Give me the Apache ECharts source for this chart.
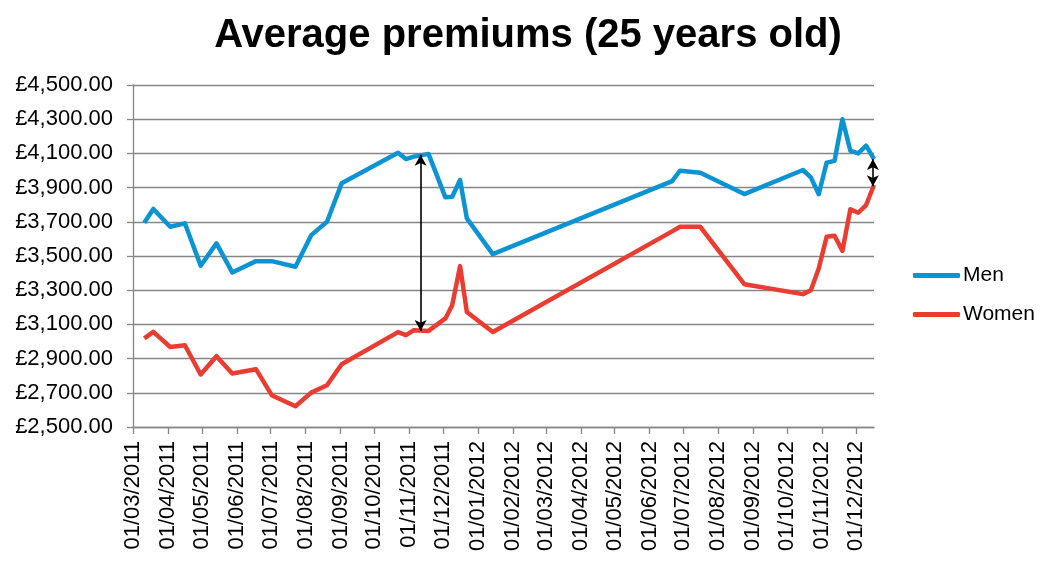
<!DOCTYPE html>
<html>
<head>
<meta charset="utf-8">
<script src="https://cdn.jsdelivr.net/npm/echarts@6/dist/echarts.min.js"></script>
<style>
html,body{margin:0;padding:0;background:#fff;}
#c{width:1056px;height:566px;}
</style>
</head>
<body>
<div id="c"></div>
<script>
var titleText = 'Average premiums (25 years old)';
var seriesNames = ['Men', 'Women'];
var dates = ['2011-03-11','2011-03-19','2011-04-03','2011-04-16','2011-04-30','2011-05-14','2011-05-28','2011-06-18','2011-07-02','2011-07-23','2011-08-06','2011-08-20','2011-09-02','2011-10-22','2011-10-29','2011-11-05','2011-11-18','2011-12-03','2011-12-09','2011-12-16','2011-12-22','2012-01-14','2012-06-21','2012-06-28','2012-07-16','2012-08-24','2012-10-15','2012-10-22','2012-10-29','2012-11-05','2012-11-12','2012-11-19','2012-11-26','2012-12-03','2012-12-10','2012-12-17'];
var men = [3694,3775,3671,3691,3443,3574,3404,3470,3470,3437,3622,3700,3925,4104,4067,4081,4097,3843,3847,3944,3720,3511,3938,3999,3987,3862,4003,3960,3861,4046,4056,4300,4116,4100,4145,4067];
var women = [3018,3056,2968,2978,2807,2914,2813,2838,2686,2621,2701,2744,2867,3055,3037,3066,3062,3135,3212,3441,3173,3056,3644,3671,3671,3335,3277,3300,3427,3612,3618,3530,3773,3753,3798,3915];
var axisStart = '2011-03-01';
var axisEnd = '2012-12-17';
var yMin = 2500, yMax = 4500, yStep = 200;
// gap arrows: [date, top value, bottom value]
var gapArrows = [['2011-11-11', 4092, 3062], ['2012-12-16', 4067, 3908]];

var FONT = 'Liberation Sans, Arial, sans-serif';
function pad(n){ return (n < 10 ? '0' : '') + n; }
function fmtDate(v){ var d = new Date(v); return pad(d.getDate()) + '/' + pad(d.getMonth()+1) + '/' + d.getFullYear(); }
function fmtMoney(v){ return '£' + Number(v).toLocaleString('en-GB', {minimumFractionDigits:2, maximumFractionDigits:2}); }
function toPairs(vals){ return dates.map(function(d,i){ return [d, vals[i]]; }); }

var chart = echarts.init(document.getElementById('c'), null, {renderer:'canvas'});
chart.setOption({
  animation: false,
  backgroundColor: '#ffffff',
  title: {
    text: titleText, left: 'center', top: 11,
    textStyle: {fontFamily: FONT, fontSize: 40, fontWeight: 'bold', color: '#000'}
  },
  legend: {
    orient: 'vertical', left: 908, top: 260, itemGap: 18,
    itemWidth: 47, itemHeight: 5, icon: 'roundRect',
    data: seriesNames,
    textStyle: {fontFamily: FONT, fontSize: 21, color: '#000', padding: [0,0,0,-2]}
  },
  grid: {left: 133, right: 182, top: 85, bottom: 139, containLabel: false},
  xAxis: {
    type: 'time',
    min: axisStart, max: axisEnd,
    splitNumber: 22,
    minInterval: 28*24*3600*1000,
    maxInterval: 31*24*3600*1000,
    axisLine: {show: true, lineStyle: {color: '#868686', width: 1.3}},
    axisTick: {show: true, length: 7, inside: false, lineStyle: {color: '#868686', width: 1.3}},
    splitLine: {show: false},
    axisLabel: {
      rotate: 90, margin: 14, interval: 0, hideOverlap: false,
      fontFamily: FONT, fontSize: 22, color: '#000',
      formatter: function(v){ return fmtDate(v); }
    }
  },
  yAxis: {
    type: 'value', min: yMin, max: yMax, interval: yStep,
    axisLine: {show: true, lineStyle: {color: '#868686', width: 1.3}},
    axisTick: {show: true, length: 6, lineStyle: {color: '#868686', width: 1.3}},
    splitLine: {show: true, lineStyle: {color: '#868686', width: 1.3}},
    axisLabel: {margin: 20, fontFamily: FONT, fontSize: 22, color: '#000', formatter: fmtMoney}
  },
  series: [
    {
      name: seriesNames[0], type: 'line', data: toPairs(men),
      showSymbol: false, symbol: 'none',
      lineStyle: {color: '#0b93d3', width: 4.5, join: 'round'},
      itemStyle: {color: '#0b93d3'},
      z: 3,
      markLine: {
        silent: true, symbol: ['arrow','arrow'], symbolSize: [9, 11],
        label: {show: false},
        lineStyle: {color: '#000', width: 1.6, type: 'solid'},
        data: gapArrows.map(function(a){ return [{coord: [a[0], a[1]]}, {coord: [a[0], a[2]]}]; })
      }
    },
    {
      name: seriesNames[1], type: 'line', data: toPairs(women),
      showSymbol: false, symbol: 'none',
      lineStyle: {color: '#ea3c30', width: 4.5, join: 'round'},
      itemStyle: {color: '#ea3c30'},
      z: 2
    }
  ]
});
</script>
</body>
</html>
